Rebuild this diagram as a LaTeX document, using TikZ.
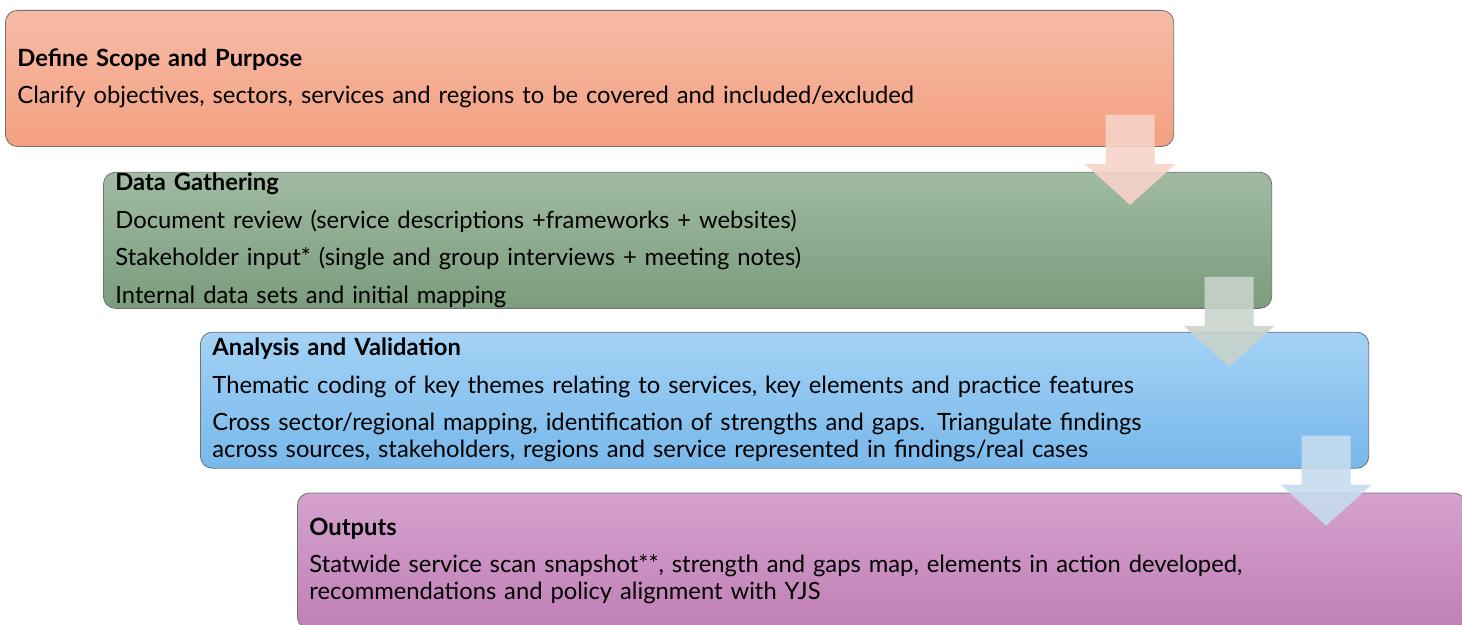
\documentclass[tikz,border=0pt]{standalone}
\usepackage{fontspec}
\setmainfont{Lato}
\usetikzlibrary{positioning,calc}

\definecolor{scopetop}{HTML}{F5BBA7}
\definecolor{scopebot}{HTML}{F4A080}
\definecolor{datatop}{HTML}{A0BBA2}
\definecolor{databot}{HTML}{7B9C7D}
\definecolor{anatop}{HTML}{A3D2F5}
\definecolor{anabot}{HTML}{78B8EA}
\definecolor{outtop}{HTML}{D4A2CD}
\definecolor{outbot}{HTML}{C07FB6}
\definecolor{scopearr}{HTML}{F7D3C8}
\definecolor{dataarr}{HTML}{C9D3CB}
\definecolor{anaarr}{HTML}{C6DCEF}

\begin{document}
\begin{tikzpicture}[x=0.025cm,y=0.025cm,
	stage/.style={draw=black!55,line width=0.6pt,rounded corners=0.3cm,anchor=north west,
		minimum width=29.2cm,minimum height=3.4cm,text width=28.6cm,inner sep=0pt,align=left,
		font=\fontsize{16.9}{19.2}\selectfont},
	flowarrow/.pic={\path[pic actions] (-24.5,0) -- (24.5,0) -- (24.5,-49) -- (45.5,-49)
		-- (0,-90) -- (-45.5,-49) -- (-24.5,-49) -- cycle;}]
	\useasboundingbox (0,0) rectangle (1462,625);
	\node[stage,top color=scopetop,bottom color=scopebot] (scope) at (5,615)
		{\textbf{Define Scope and Purpose}\\[7.5pt]
		Clarify objectives, sectors, services and regions to be covered and included/excluded};
	\node[stage,top color=datatop,bottom color=databot] (data) at ($(scope.south west)+(98,-25)$)
		{\textbf{Data Gathering}\\[7.5pt]
		Document review (service descriptions +frameworks + websites)\\[7.5pt]
		Stakeholder input* (single and group interviews + meeting notes)\\[7.5pt]
		Internal data sets and initial mapping};
	\node[stage,top color=anatop,bottom color=anabot] (analysis) at ($(data.south west)+(97,-23)$)
		{\textbf{Analysis and Validation}\\[7.5pt]
		Thematic coding of key themes relating to services, key elements and practice features\\[7.5pt]
		Cross sector/regional mapping, identification of strengths and gaps. Triangulate findings\\
		across sources, stakeholders, regions and service represented in findings/real cases};
	\node[stage,top color=outtop,bottom color=outbot] (outputs) at ($(analysis.south west)+(97,-24)$)
		{\textbf{Outputs}\\[7.5pt]
		Statwide service scan snapshot**, strength and gaps map, elements in action developed,\\
		recommendations and policy alignment with YJS};
	\pic[fill=scopearr,fill opacity=0.9] at ($(scope.south east)+(-44,32)$) {flowarrow};
	\pic[fill=dataarr,fill opacity=0.9] at ($(data.south east)+(-43,32)$) {flowarrow};
	\pic[fill=anaarr,fill opacity=0.9] at ($(analysis.south east)+(-43,33)$) {flowarrow};
\end{tikzpicture}
\end{document}
